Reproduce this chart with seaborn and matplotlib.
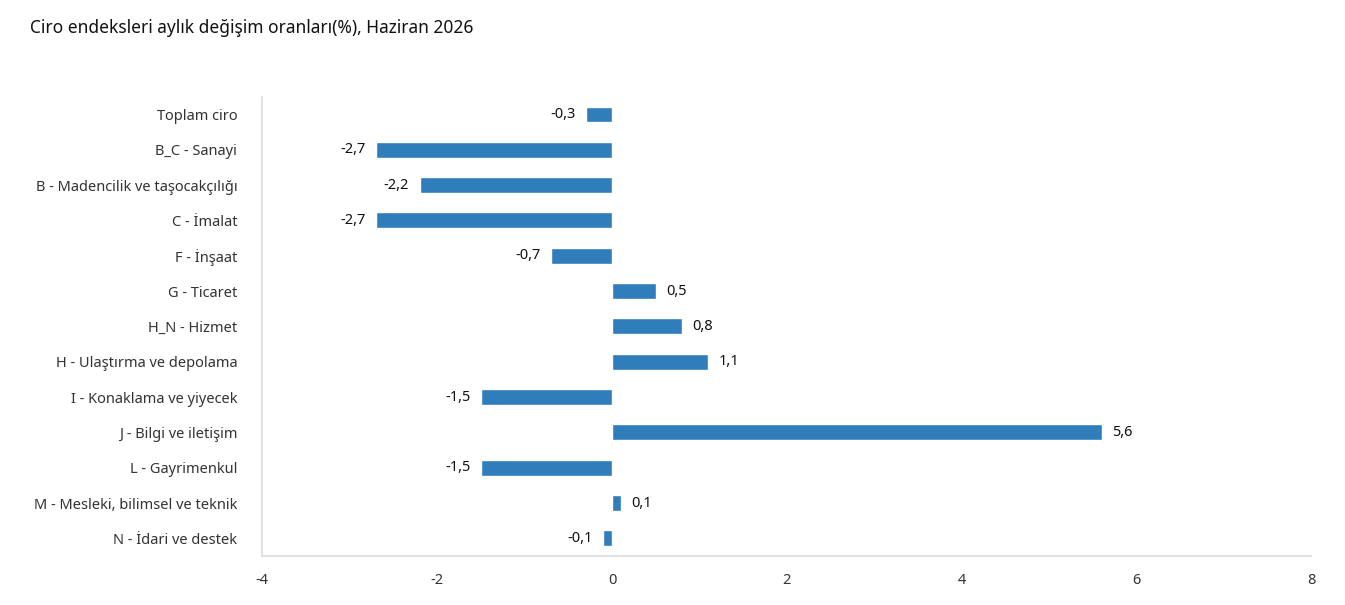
import matplotlib
matplotlib.use("Agg")
import matplotlib.pyplot as plt
import seaborn as sns
import pandas as pd

categories = [
    "Toplam ciro", "B_C - Sanayi", "B - Madencilik ve taşocakçılığı", "C - İmalat",
    "F - İnşaat", "G - Ticaret", "H_N - Hizmet", "H - Ulaştırma ve depolama",
    "I - Konaklama ve yiyecek", "J - Bilgi ve iletişim", "L - Gayrimenkul",
    "M - Mesleki, bilimsel ve teknik", "N - İdari ve destek",
]
values = [-0.3, -2.7, -2.2, -2.7, -0.7, 0.5, 0.8, 1.1, -1.5, 5.6, -1.5, 0.1, -0.1]
x_ticks = [-4, -2, 0, 2, 4, 6, 8]

sns.set_theme(style="white")
plt.rcParams["font.family"] = ["Noto Sans", "DejaVu Sans"]

df = pd.DataFrame({"kategori": categories, "deger": values})

fig = plt.figure(figsize=(13.45, 6.05), dpi=100)
ax = fig.add_axes([0.195, 0.081, 0.78, 0.759])
sns.barplot(data=df, x="deger", y="kategori", color="#2f7dba", saturation=1,
            width=0.45, orient="h", ax=ax)

for i, v in enumerate(values):
    lbl = f"{v:.1f}".replace(".", ",")
    if v < 0:
        ax.text(v - 0.12, i, lbl, ha="right", va="center", fontsize=10.5, fontweight="bold", color="#111")
    else:
        ax.text(v + 0.12, i, lbl, ha="left", va="center", fontsize=10.5, fontweight="bold", color="#111")

ax.set_xlim(-4, 8)
ax.set_xticks(x_ticks)
ax.set_xticklabels([str(t) for t in x_ticks], fontsize=10.5, color="#333")
ax.tick_params(axis="y", labelsize=10.5, colors="#333", length=0, pad=18)
ax.tick_params(axis="x", length=0, pad=12)
ax.set_xlabel("")
ax.set_ylabel("")
ax.set_ylim(len(categories) - 0.5, -0.5)
for s in ["top", "right"]:
    ax.spines[s].set_visible(False)
for s in ["left", "bottom"]:
    ax.spines[s].set_color("#dddddd")

fig.text(0.022, 0.953, "Ciro endeksleri aylık değişim oranları(%), Haziran 2026",
         fontsize=12.5, fontweight="bold", ha="left", va="center", color="#111")

fig.savefig("out.png", dpi=100)
